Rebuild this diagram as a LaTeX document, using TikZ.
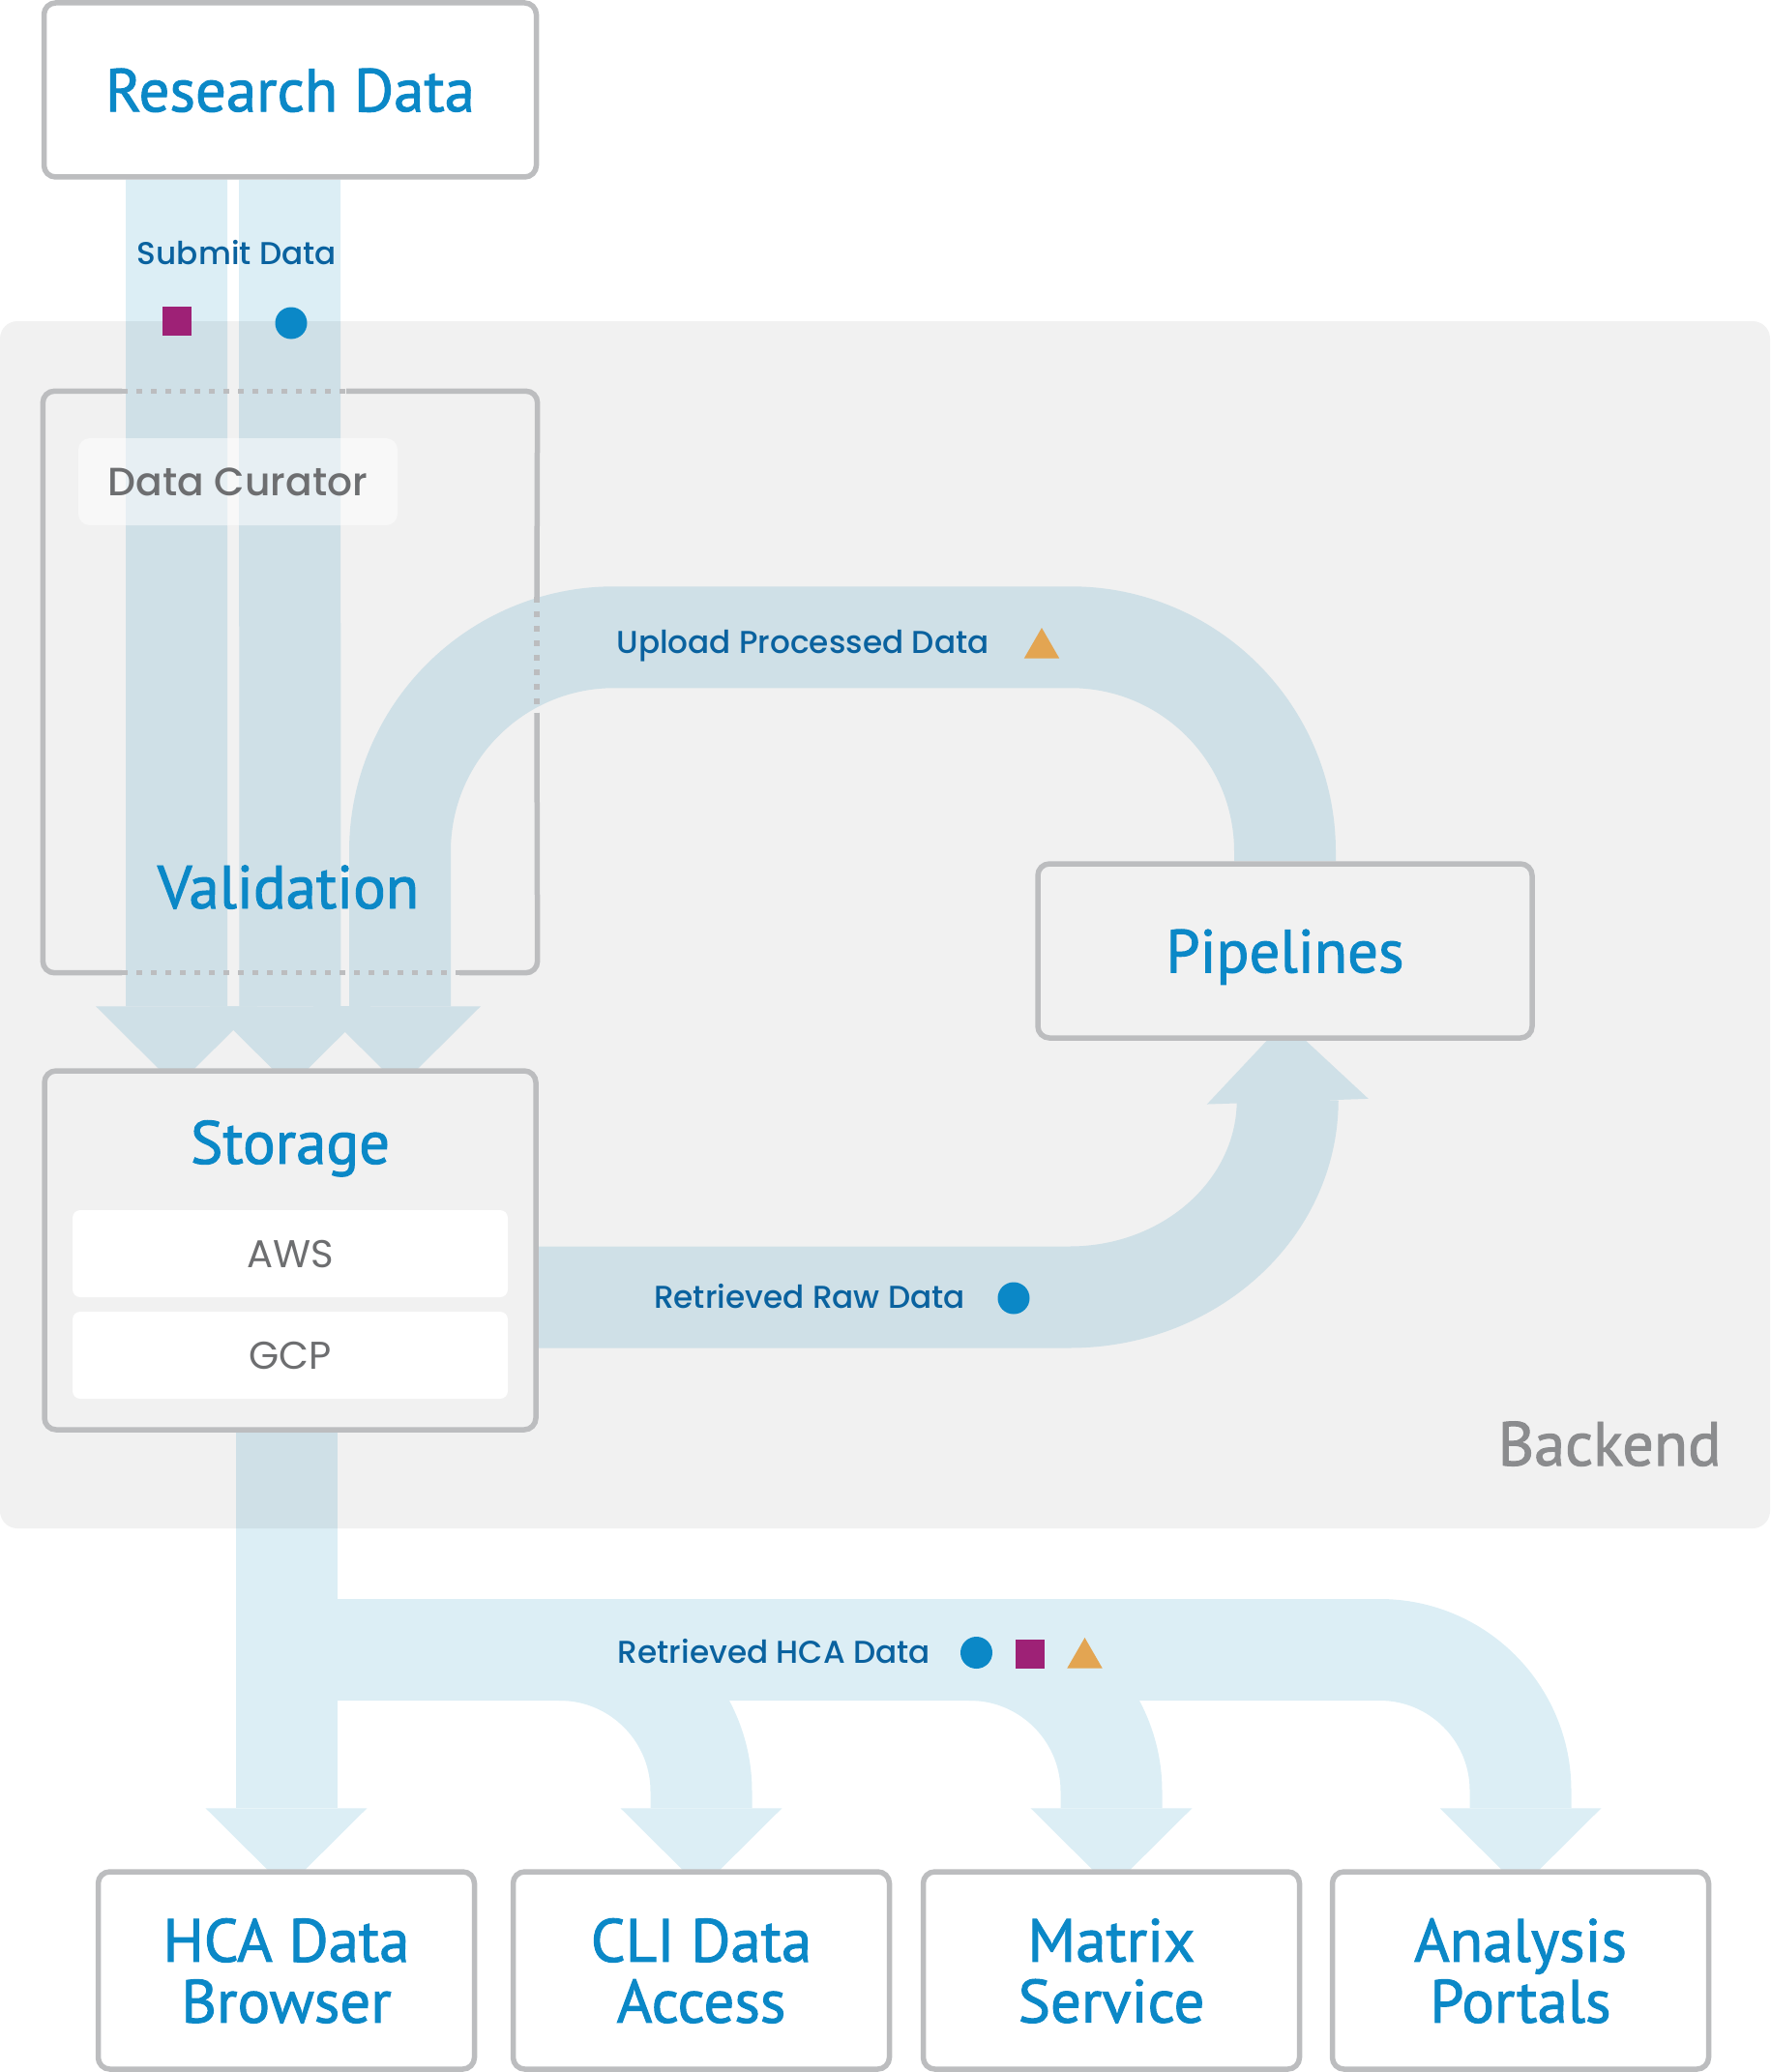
\documentclass[tikz,border=0pt]{standalone}
\usepackage{fontspec}
\usepackage{tikz}
\usetikzlibrary{arrows.meta,positioning,calc,shapes.geometric}
\setmainfont{PT Sans}
\newfontfamily\headfont{PT Sans}[FakeBold=1.5]
\newfontfamily\flowfont{Poppins Medium}
\newfontfamily\tagfont{Poppins}
\definecolor{hcablue}{RGB}{11,136,199}
\definecolor{flowblue}{RGB}{10,98,159}
\definecolor{taggrey}{RGB}{109,110,112}
\definecolor{backendgrey}{RGB}{241,241,241}
\definecolor{backendtext}{RGB}{139,140,142}
\definecolor{framegrey}{RGB}{188,189,191}
\definecolor{bandblue}{RGB}{220,238,245}
\definecolor{plum}{RGB}{158,33,118}
\definecolor{amber}{RGB}{227,165,82}
\pgfdeclarelayer{flow}
\pgfdeclarelayer{back}
\pgfsetlayers{flow,back,main}

\begin{document}
\begin{tikzpicture}[
  box/.style={draw=framegrey,line width=0.55mm,rounded corners=1.2mm,fill=white,
              align=center,text=hcablue,text depth=0pt,
              font=\headfont\fontsize{17.9}{17.9}\selectfont},
  panel/.style={fill=backendgrey,blend mode=multiply,rounded corners=1.8mm,
              minimum width=18.3cm,minimum height=12.48cm},
  curbox/.style={fill=white,fill opacity=0.5,text opacity=1,rounded corners=1.2mm,
              minimum width=3.3cm,minimum height=0.9cm,text=taggrey,
              font=\flowfont\fontsize{11.6}{13}\selectfont},
  subbox/.style={fill=white,rounded corners=0.8mm,minimum width=4.5cm,minimum height=0.9cm,
              text=taggrey,font=\tagfont\fontsize{11.4}{13}\selectfont},
  heading/.style={anchor=base,text=hcablue,font=\headfont\fontsize{17.9}{17.9}\selectfont},
  flowlbl/.style={anchor=base,text=flowblue,font=\flowfont\fontsize{9.3}{11}\selectfont},
  band/.style={draw=bandblue,line width=1.05cm,
               -{Triangle[width=1.67cm,length=0.83cm,line width=0pt]}},
  edge/.style={draw=framegrey,line width=0.55mm,rounded corners=1.2mm},
  dots/.style={draw=framegrey,line width=0.55mm,dash pattern=on 0.55mm off 0.95mm},
  sqmark/.style={fill=plum,minimum size=0.3cm,inner sep=0pt},
  dotmark/.style={circle,fill=hcablue,minimum size=0.33cm,inner sep=0pt},
  trimark/.style={regular polygon,regular polygon sides=3,fill=amber,minimum size=0.42cm,inner sep=0pt}]
  \useasboundingbox (0,0) rectangle (18.3,-21.42);
  \begin{pgfonlayer}{back}
    \node[panel] (backend) at (9.15,-9.56) {};
  \end{pgfonlayer}
  \node[anchor=base east,text=backendtext,font=\headfont\fontsize{18.3}{18.3}\selectfont] (backendtxt) at (17.92,-15.15) {Backend};

  \node[box,minimum width=5.09cm,minimum height=1.8cm] (research) at (3.0,-0.93) {Research Data};
  \node[minimum width=5.1cm,minimum height=6cm] (val) at (3.0,-7.05) {};
  \node[curbox] (curator) at (2.46,-4.98) {Data Curator};
  \node[heading] (valtxt) at (2.98,-9.39) {Validation};
  \node[box,fill=backendgrey,minimum width=5.08cm,minimum height=3.71cm] (stor) at (3.0,-12.925) {};
  \node[heading] (stortxt) at (3.0,-12.03) {Storage};
  \node[subbox] (aws) at (3.0,-12.96) {AWS};
  \node[subbox] (gcp) at (3.0,-14.01) {GCP};
  \node[box,fill=backendgrey,minimum width=5.11cm,minimum height=1.8cm] (pipe) at (13.285,-9.83) {Pipelines};
  \node[box,minimum width=3.89cm,minimum height=2.04cm] (browser) at (2.96,-20.37) {HCA Data\\Browser};
  \node[box,minimum width=3.89cm,minimum height=2.04cm] (cli) at (7.25,-20.37) {CLI Data\\Access};
  \node[box,minimum width=3.89cm,minimum height=2.04cm] (matrix) at (11.49,-20.37) {Matrix\\Service};
  \node[box,minimum width=3.89cm,minimum height=2.04cm] (portals) at (15.72,-20.37) {Analysis\\Portals};
  \coordinate (fork) at (2.96,-17.055);

  % validation frame, dotted where the flows cross it
  \draw[edge] (1.26,0 |- val.north) -- (val.north west) -- (val.south west) -- (1.26,0 |- val.south);
  \draw[edge] (3.58,0 |- val.north) -- (val.north east) -- (5.55,-6.17);
  \draw[edge] (5.55,-7.37) -- (val.south east) -- (4.75,0 |- val.south);
  \draw[dots] (1.26,0 |- val.north) -- (3.58,0 |- val.north);
  \draw[dots] (5.55,-6.17) -- (5.55,-7.37);
  \draw[dots] (1.26,0 |- val.south) -- (4.75,0 |- val.south);

  % data flows
  \begin{pgfonlayer}{flow}
    \draw[band] (1.825,0 |- research.south) -- ($(stor.north)+(-1.175,-0.19)$);
    \draw[band] (2.995,0 |- research.south) -- ($(stor.north)+(0,-0.19)$);
    \draw[band] (pipe.north) -- ++(0,0.1) arc[start angle=0,end angle=90,radius=2.215]
      -- ++(-4.72,0) arc[start angle=90,end angle=180,radius=2.215]
      -- ($(stor.north)+(1.135,-0.19)$);
    \draw[band] ($(stor.east)+(0,-0.485)$) -- ++(5.49,0)
      arc[start angle=-90,end angle=0,x radius=2.255,y radius=2.04]
      -- ($(pipe.south)+(0,0.2)$);
    \draw[band] (browser.north |- stor.south) -- ($(browser.north)+(0,-0.2)$);
    \draw[band] (fork) -- ++(11.305,0) arc[start angle=90,end angle=0,radius=1.455]
      -- ($(portals.north)+(0,-0.2)$);
    \foreach \b in {cli,matrix}
      \draw[band] ($(\b.north |- fork)+(-1.465,0)$) arc[start angle=90,end angle=0,radius=1.465]
        -- ($(\b.north)+(0,-0.2)$);
  \end{pgfonlayer}

  \node[flowlbl] (submit) at (2.45,-2.73) {Submit Data};
  \node[sqmark] (submitsq) at (1.83,-3.32) {};
  \node[dotmark] (submitdot) at (3.01,-3.34) {};
  \node[flowlbl] (upload) at (8.30,-6.75) {Upload Processed Data};
  \node[trimark] (uploadtri) at (10.77,-6.70) {};
  \node[flowlbl] (raw) at (8.37,-13.526) {Retrieved Raw Data};
  \node[dotmark] (rawdot) at (10.48,-13.42) {};
  \node[flowlbl] (hca) at (8.005,-17.19) {Retrieved HCA Data};
  \node[dotmark] (hcadot) at (10.095,-17.085) {};
  \node[sqmark] (hcasq) at (10.65,-17.095) {};
  \node[trimark] (hcatri) at (11.215,-17.14) {};
\end{tikzpicture}
\end{document}
